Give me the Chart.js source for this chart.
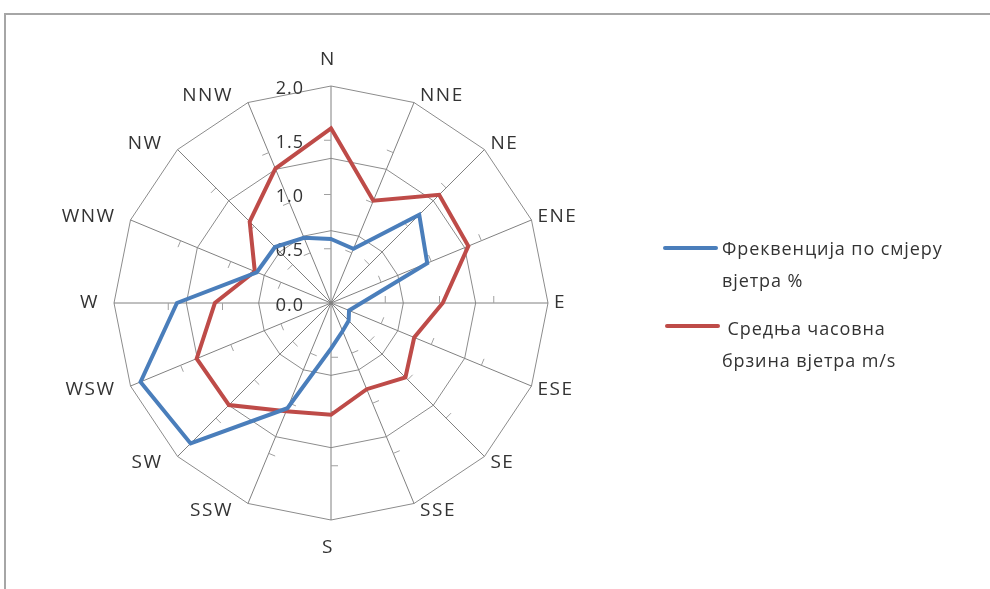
<!DOCTYPE html>
<html><head><meta charset="utf-8">
<script src="https://cdn.jsdelivr.net/npm/chart.js@4.4.1/dist/chart.umd.min.js"></script>
<style>
html,body{margin:0;padding:0;background:#fff;}
#wrap{position:relative;width:990px;height:589px;overflow:hidden;background:#fff;}
#frame{position:absolute;left:4px;top:13px;width:1000px;height:600px;border-top:2px solid #a6a6a6;border-left:2px solid #a6a6a6;}
canvas{position:absolute;left:0;top:0;}
.leg{position:absolute;font-family:'Open Sans',sans-serif;font-size:18px;line-height:32px;color:#333;white-space:pre;letter-spacing:0.9px;}
.sw{position:absolute;height:4px;width:55px;border-radius:2px;}
</style></head><body>
<div id="wrap"><div id="frame"></div><canvas id="c" width="990" height="589"></canvas><div id="legend"></div></div>
<script>
const directions = ['N','NNE','NE','ENE','E','ESE','SE','SSE','S','SSW','SW','WSW','W','WNW','NW','NNW'];
const frequency = [0.59, 0.54, 1.15, 0.96, 0.28, 0.18, 0.23, 0.28, 0.42, 1.05, 1.83, 1.90, 1.42, 0.74, 0.73, 0.65];
const speed     = [1.61, 1.02, 1.41, 1.37, 1.03, 0.83, 0.97, 0.86, 1.03, 1.08, 1.33, 1.34, 1.07, 0.76, 1.06, 1.34];
const tickValues = [0, 0.5, 1, 1.5, 2];
const tickLabels = ['0.0', '0.5', '1.0', '1.5', '2.0'];
const seriesNames = ['Фреквенција по смјеру вјетра %', ' Средња часовна брзина вјетра m/s'];
const legendLines = [['Фреквенција по смјеру', 'вјетра %'], [' Средња часовна', 'брзина вјетра m/s']];
const seriesColors = ['#4a7ebb', '#be4b48'];

// HTML legend
const legendPos = [{sx:663, sy:246, tx:722, ty:232}, {sx:665, sy:324, tx:722, ty:312}];
const legendEl = document.getElementById('legend');
legendLines.forEach((lines, k) => {
  const sw = document.createElement('div');
  sw.className = 'sw';
  sw.style.left = legendPos[k].sx + 'px';
  sw.style.top = legendPos[k].sy + 'px';
  sw.style.background = seriesColors[k];
  legendEl.appendChild(sw);
  const t = document.createElement('div');
  t.className = 'leg';
  t.style.left = legendPos[k].tx + 'px';
  t.style.top = legendPos[k].ty + 'px';
  t.textContent = lines.join('\n');
  legendEl.appendChild(t);
});

const decorPlugin = {
  id: 'decor',
  beforeDatasetsDraw(chart) {
    const s = chart.scales.r;
    const ctx = chart.ctx;
    const R = s.drawingArea;
    ctx.save();
    // small tick marks on each spoke
    ctx.strokeStyle = '#a0a0a0';
    ctx.lineWidth = 1;
    for (let i = 0; i < directions.length; i++) {
      const a = s.getIndexAngle(i) - Math.PI / 2;
      const ux = Math.cos(a), uy = Math.sin(a);
      const px = uy, py = -ux;
      for (const v of [0.5, 1, 1.5]) {
        const p = s.getPointPositionForValue(i, v);
        ctx.beginPath();
        ctx.moveTo(p.x, p.y);
        ctx.lineTo(p.x + px * 7, p.y + py * 7);
        ctx.stroke();
      }
    }
    // value labels along the N spoke
    ctx.font = '18px "Open Sans"';
    try { ctx.letterSpacing = '1px'; } catch (e) {}
    ctx.fillStyle = '#333';
    ctx.textAlign = 'right';
    ctx.textBaseline = 'middle';
    tickValues.forEach((v, k) => {
      const p = s.getPointPositionForValue(0, v);
      ctx.fillText(tickLabels[k], s.xCenter - 27, p.y + 2.5);
    });
    // direction labels
    ctx.font = '19px "Open Sans"';
    try { ctx.letterSpacing = '1.5px'; } catch (e) {}
    for (let i = 0; i < directions.length; i++) {
      const ang = s.getIndexAngle(i);
      const sn = Math.sin(ang), cs = Math.cos(ang);
      if (Math.abs(sn) < 0.01) {
        const p = s.getPointPosition(i, R + (cs > 0 ? 26 : 28));
        ctx.textAlign = 'center';
        ctx.fillText(directions[i], p.x - 3, p.y);
      } else {
        const ring = s.getPointPosition(i, R);
        const p = s.getPointPosition(i, R + 8);
        ctx.textAlign = sn > 0 ? 'left' : 'right';
        ctx.fillText(directions[i], ring.x + (sn > 0 ? 6 : -15), p.y);
      }
    }
    ctx.restore();
  }
};

new Chart(document.getElementById('c'), {
  type: 'radar',
  data: {
    labels: directions,
    datasets: [
      { label: seriesNames[0], data: frequency, borderColor: seriesColors[0], borderWidth: 4, fill: false, pointRadius: 0, tension: 0, borderJoinStyle: 'miter' },
      { label: seriesNames[1], data: speed, borderColor: seriesColors[1], borderWidth: 4, fill: false, pointRadius: 0, tension: 0, borderJoinStyle: 'miter' }
    ]
  },
  options: {
    responsive: false,
    animation: false,
    devicePixelRatio: 1,
    layout: { padding: { left: 114, top: 86, right: 442, bottom: 69 } },
    plugins: { legend: { display: false }, tooltip: { enabled: false } },
    scales: {
      r: {
        min: 0, max: 2,
        ticks: { display: false, stepSize: 2 / 3 },
        grid: { circular: false, color: '#8c8c8c', lineWidth: 1 },
        angleLines: { display: true, color: '#808080', lineWidth: 1 },
        pointLabels: { display: false }
      }
    }
  },
  plugins: [decorPlugin]
});
</script>
</body></html>
